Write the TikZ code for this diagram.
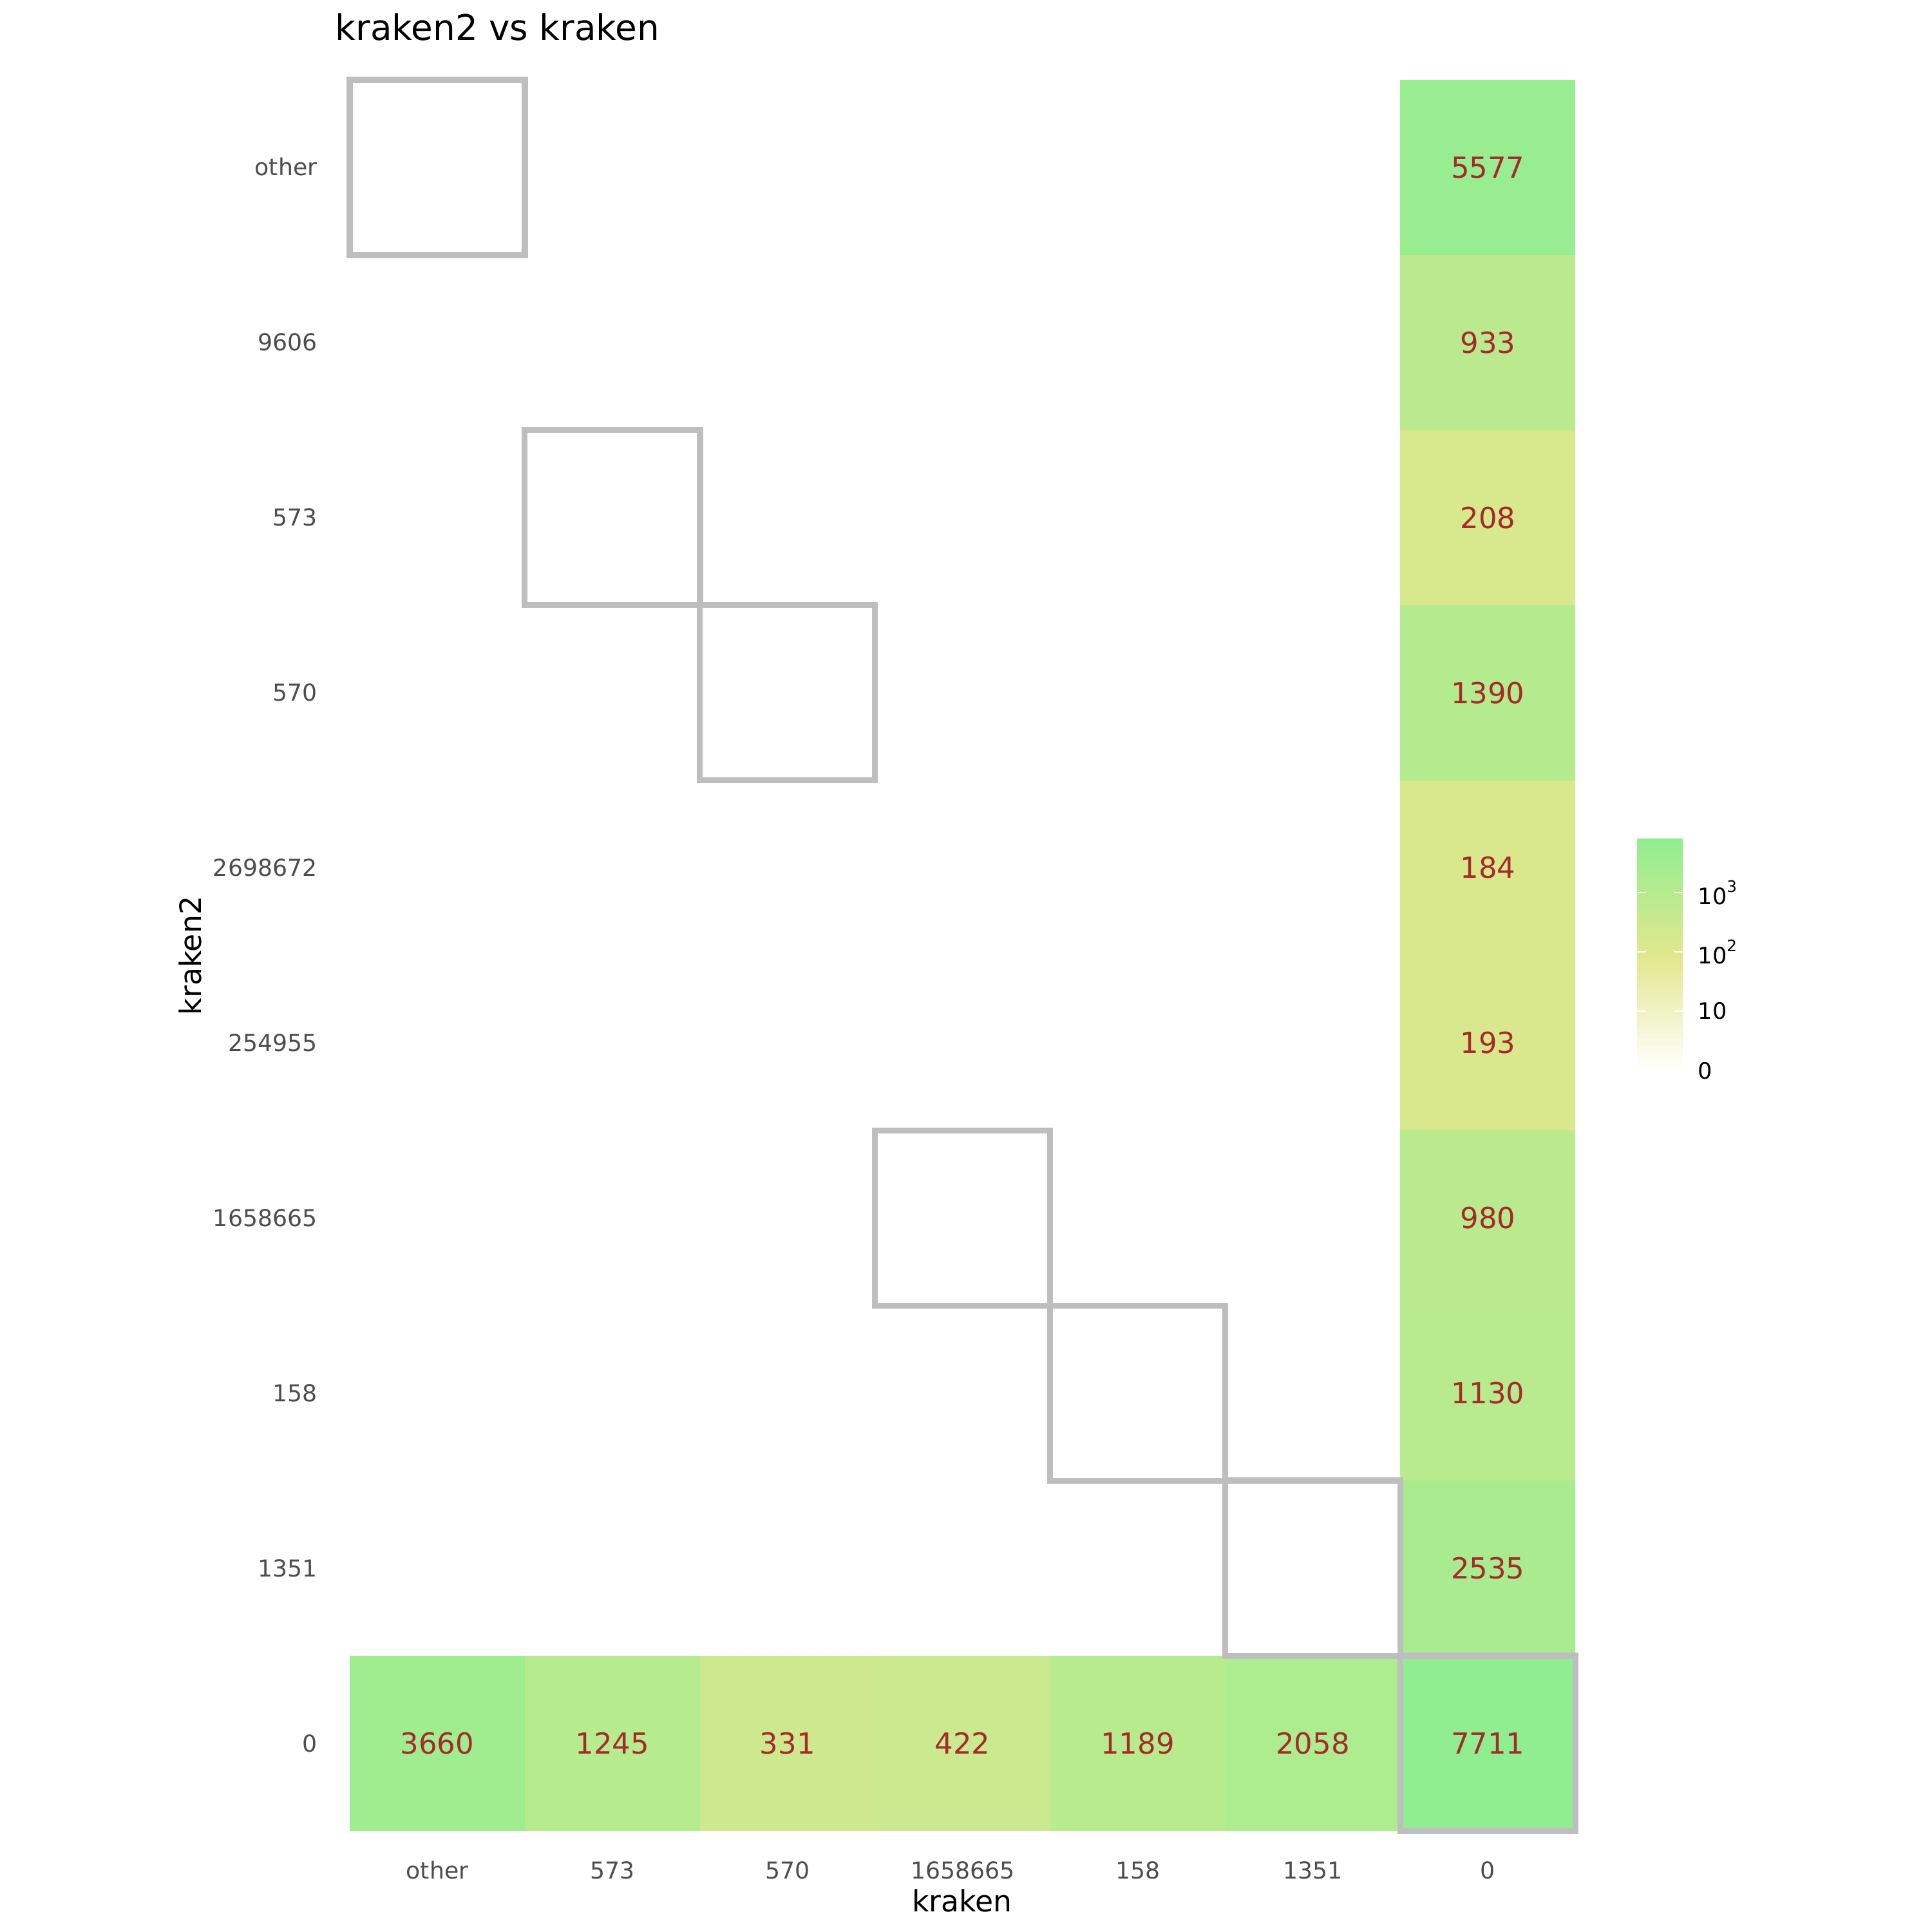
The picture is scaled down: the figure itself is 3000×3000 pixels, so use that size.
\documentclass[tikz,border=0pt]{standalone}
\usepackage{fontspec}
\setmainfont{DejaVu Sans}
\definecolor{khakiC}{RGB}{240,230,140}
\definecolor{lgreen}{RGB}{144,238,144}
\definecolor{hlgray}{RGB}{190,190,190}
\definecolor{lblbrown}{RGB}{165,42,42}
\definecolor{tickgray}{RGB}{77,77,77}
\begin{document}
\begin{tikzpicture}[x=0.01cm,y=-0.01cm,
  tile/.style={minimum width=2.719cm, minimum height=2.719cm, inner sep=0pt, outer sep=0pt,
    font=\fontsize{12.8}{15}\selectfont, text=lblbrown},
  hlbox/.style={draw=hlgray, line width=2.65pt, minimum width=2.719cm, minimum height=2.719cm, inner sep=0pt, outer sep=0pt},
  ticklab/.style={font=\fontsize{10.3}{12}\selectfont, text=tickgray, inner sep=0pt},
  axtitle/.style={font=\fontsize{13}{15}\selectfont, text=black, inner sep=0pt},
  leglab/.style={font=\fontsize{10}{12}\selectfont, text=black, inner sep=0pt, anchor=west},
  legtick/.style={draw=white, line width=0.6pt}]
\useasboundingbox (0,0) rectangle (3000,3000);
\fill[white] (0,0) rectangle (3000,3000);
% tiles
\foreach \c/\r/\v/\p in {6/0/5577/93, 6/1/933/55, 6/2/208/26, 6/3/1390/62, 6/4/184/23,
  6/5/193/24, 6/6/980/56, 6/7/1130/58, 6/8/2535/75, 6/9/7711/100,
  0/9/3660/83, 1/9/1245/60, 2/9/331/35, 3/9/422/39, 4/9/1189/59, 5/9/2058/70}{
  \node[tile, fill=lgreen!\p!khakiC] (t-\c-\r) at ({543+271.9*(\c+0.5)},{124+271.9*(\r+0.5)}) {\v};
}
% highlight boxes
\foreach \c/\r in {0/0, 1/2, 2/3, 3/6, 4/7, 5/8, 6/9}{
  \node[hlbox] (h-\c-\r) at ({543+271.9*(\c+0.5)},{124+271.9*(\r+0.5)}) {};
}
% y tick labels
\foreach \r/\t in {0/other, 1/9606, 2/573, 3/570, 4/2698672, 5/254955, 6/1658665, 7/158, 8/1351, 9/0}{
  \node[ticklab, anchor=base east] (ylab-\r) at (493,{124+271.9*(\r+0.5)+13}) {\t};
}
% x tick labels
\foreach \c/\t in {0/other, 1/573, 2/570, 3/1658665, 4/158, 5/1351, 6/0}{
  \node[ticklab, anchor=base] (xlab-\c) at ({543+271.9*(\c+0.5)},2917) {\t};
}
% axis titles and title
\node[axtitle, anchor=base] (xtitle) at (1494,2968) {kraken};
\node[axtitle, anchor=base, rotate=90] (ytitle) at (312,1484) {kraken2};
\node[font=\fontsize{15.6}{18}\selectfont, anchor=base west, inner sep=0pt] (title) at (520,63) {kraken2 vs kraken};
% legend
\node[minimum width=0.71cm, minimum height=3.60cm, inner sep=0pt, outer sep=0pt,
  top color=lgreen, bottom color=white, middle color=khakiC!85!lgreen] (legend) at (2577.5,1483) {};
\foreach \y in {1386,1478,1570}{
  \draw[legtick] (2542,\y) -- (2556,\y);
  \draw[legtick] (2599,\y) -- (2613,\y);
}
\node[leglab] (l3) at (2636,1386) {10\raisebox{0.55em}{\fontsize{7}{7}\selectfont 3}};
\node[leglab] (l2) at (2636,1478) {10\raisebox{0.55em}{\fontsize{7}{7}\selectfont 2}};
\node[leglab] (l1) at (2636,1570) {10};
\node[leglab] (l0) at (2636,1663) {0};
\end{tikzpicture}
\end{document}
